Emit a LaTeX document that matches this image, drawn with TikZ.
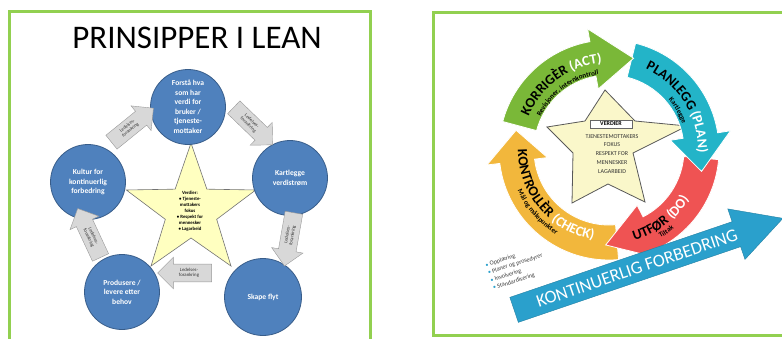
\documentclass[tikz,border=0pt]{standalone}
\usepackage{fontspec}
\setmainfont{Carlito}
\usetikzlibrary{shapes.arrows,decorations.text}

\definecolor{rammegronn}{RGB}{146,208,80}
\definecolor{leanblaa}{RGB}{79,129,189}
\definecolor{leanblaamork}{RGB}{56,93,138}
\definecolor{stjernegul}{RGB}{255,255,192}
\definecolor{stjernelys}{RGB}{250,247,202}
\definecolor{pilgraa}{RGB}{216,216,216}
\definecolor{actgronn}{RGB}{122,184,56}
\definecolor{plancyan}{RGB}{35,180,200}
\definecolor{dorod}{RGB}{239,83,83}
\definecolor{checkgul}{RGB}{242,183,60}
\definecolor{kfblaa}{RGB}{42,160,204}

% one bent arrow of the ring: colour, tail angle, head base angle, tip angle
\newcommand\pdcapil[4]{%
  \filldraw[fill=#1,pdca] (#2:110) arc[start angle=#2,end angle=#3,radius=110]
    -- (#3:123) -- (#4:95) -- (#3:62) -- (#3:75)
    arc[start angle=#3,end angle=#2,radius=75] -- cycle;}
\newcommand\stor{\fontsize{14}{14}\selectfont\bfseries}
\newcommand\liten{\fontsize{7}{7}\selectfont\bfseries}

\begin{document}
\begin{tikzpicture}[x=1pt,y=1pt,
    ramme/.style={draw=rammegronn,line width=3pt},
    sirkel/.style={circle,fill=leanblaa,draw=leanblaamork,line width=0.8pt,
      minimum size=75pt,inner sep=0pt,text=white,align=center,
      font=\fontsize{7.6}{9.5}\selectfont\bfseries},
    ledelse/.style={single arrow,draw=gray!80,fill=pilgraa,minimum height=54pt,
      single arrow head extend=7pt,inner sep=4pt,align=center,
      font=\fontsize{4.8}{5.2}\selectfont,text=black!80},
    pdca/.style={draw=white,line width=0.8pt},
    buetekst/.style={decorate,decoration={text along path,text align=center,text={#1}}},
    kfpil/.style={single arrow,fill=kfblaa,draw=kfblaa!80!black,line width=0.4pt,
      minimum height=284pt,single arrow head extend=13.5pt,single arrow tip angle=57,
      inner xsep=4pt,inner ysep=7pt,text height=12pt,text depth=0pt,text=white,
      font=\fontsize{18}{18}\selectfont}]
  \useasboundingbox (0,0) rectangle (782,-338);
  \clip (0,0) rectangle (782,-338);
  \fill[white] (0,0) rectangle (782,-338);

  \draw[ramme] (9,-11) rectangle (370,-350);
  \draw[ramme] (433,-12) rectangle (792,-335);

  % Lean
  \node[font=\fontsize{33}{33}\selectfont] (tittel) at (197,-38) {PRINSIPPER I LEAN};

  \begin{scope}[shift={(191,-211)}]
    \filldraw[fill=stjernegul,draw=black!55,line width=0.6pt] (90:68)
      \foreach \a in {162,234,306,378,450}{ -- ({\a-36}:27) -- (\a:68)} -- cycle;
  \end{scope}
  \node[font=\fontsize{4.8}{6}\selectfont\bfseries,align=center] (verdier) at (190,-211)
    {Verdier:\\• Tjeneste-\\mottakers\\fokus\\• Respekt for\\mennesker\\• Lagarbeid};

  \node[sirkel] (forsta) at (188,-107) {Forstå hva\\som har\\verdi for\\bruker /\\tjeneste-\\mottaker};
  \node[sirkel] (kartlegge) at (290,-178) {Kartlegge\\verdistrøm};
  \node[sirkel,minimum size=77pt] (skape) at (263,-297) {Skape flyt};
  \node[sirkel] (produsere) at (122,-292) {Produsere /\\levere etter\\behov};
  \node[sirkel] (kultur) at (88,-182) {Kultur for\\kontinuerlig\\forbedring};

  \node[ledelse,rotate=39] (led1) at (129,-128) {Ledelses-\\forankring};
  \node[ledelse,rotate=-44] (led2) at (250,-123) {Ledelses-\\forankring};
  \node[ledelse,rotate=80,shape border rotate=180] (led3) at (290,-235) {Ledelses-\\forankring};
  \node[ledelse,shape border rotate=180] (led4) at (189,-273) {Ledelses-\\forankring};
  \node[ledelse,rotate=-65,shape border rotate=180] (led5) at (91,-237) {Ledelses-\\forankring};

  % PDCA
  \filldraw[fill=stjernelys,draw=black!65,line width=0.8pt] (605,-90) -- (635,-121)
    -- (687,-126) -- (633,-153) -- (645,-202) -- (608,-184) -- (572,-203)
    -- (573,-153) -- (547,-127) -- (585,-121) -- cycle;
  \node[draw=black!60,fill=white,inner sep=0.5pt,minimum width=42pt,minimum height=8pt,
    font=\fontsize{6}{6}\selectfont\bfseries] (verdibox) at (611,-124) {VERDIER};
  \node[font=\fontsize{6}{8.2}\selectfont,align=center,text=black!80] (verdiliste) at (612,-154)
    {TJENESTEMOTTAKERS\\FOKUS\\[1pt]RESPEKT FOR\\MENNESKER\\[1pt]LAGARBEID};

  \begin{scope}[shift={(609,-150)}]
    \pdcapil{checkgul}{-85}{-173}{-192}
    \pdcapil{dorod}{-5}{-63}{-92}
    \pdcapil{plancyan}{76}{9}{-13}
    \pdcapil{actgronn}{165}{100}{75}

    \path[buetekst={|\stor|KORRIGÈR |\stor\color{white}|(ACT)}]
      (176:87) arc[start angle=176,end angle=76,radius=87];
    \path[buetekst={|\liten|Revisjoner, internkontroll}]
      (176:76) arc[start angle=176,end angle=76,radius=76];
    \path[buetekst={|\stor|PLANLEGG |\stor\color{white}|(PLAN)}]
      (82:89) arc[start angle=82,end angle=-18,radius=89];
    \path[buetekst={|\liten|Kartlegge}]
      (60:78) arc[start angle=60,end angle=0,radius=78];
    \path[buetekst={|\stor|UTFØR |\stor\color{white}|(DO)}]
      (-100:94) arc[start angle=-100,end angle=-6,radius=94];
    \path[buetekst={|\liten|Tiltak}]
      (-80:102) arc[start angle=-80,end angle=-30,radius=102];
    \path[buetekst={|\stor|KONTROLLÈR |\stor\color{white}|(CHECK)}]
      (165:91) arc[start angle=165,end angle=275,radius=91];
    \path[buetekst={|\liten|Mål og målepunkter}]
      (176:100) arc[start angle=176,end angle=266,radius=100];
  \end{scope}

  \node[rotate=18,anchor=west,align=left,font=\fontsize{6.2}{8}\selectfont,text=black!75] (tiltak)
    at (486,-278) {\textcolor{kfblaa}{•} Opplæring\\\textcolor{kfblaa}{•} Planer og prosedyrer\\
    \textcolor{kfblaa}{•} Involvering\\\textcolor{kfblaa}{•} Standardisering};
  \node[kfpil,rotate=18.8] (kf) at (637,-268) {KONTINUERLIG FORBEDRING};
\end{tikzpicture}
\end{document}
